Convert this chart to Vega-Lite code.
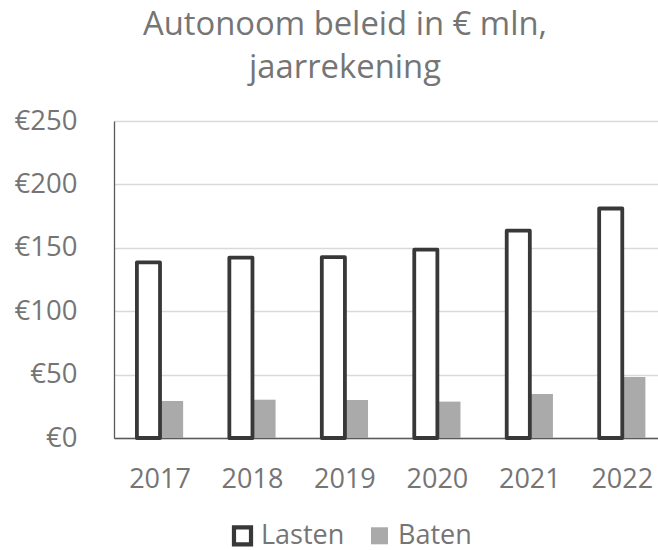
{
  "$schema": "https://vega.github.io/schema/vega-lite/v6.json",
  "width": 544,
  "height": 317,
  "autosize": {"type": "none"},
  "padding": {"left": 114, "top": 121, "right": 0, "bottom": 112},
  "background": "white",
  "title": {
    "text": ["Autonoom beleid in € mln,", "jaarrekening"],
    "font": "Open Sans",
    "fontSize": 32.8,
    "fontWeight": "normal",
    "color": "#757575",
    "anchor": "middle",
    "dx": -41,
    "lineHeight": 43,
    "offset": 22
  },
  "data": {
    "values": [
      {"jaar": "2017", "reeks": "Baten", "waarde": 29.2},
      {"jaar": "2018", "reeks": "Baten", "waarde": 30.2},
      {"jaar": "2019", "reeks": "Baten", "waarde": 30.0},
      {"jaar": "2020", "reeks": "Baten", "waarde": 28.7},
      {"jaar": "2021", "reeks": "Baten", "waarde": 34.7},
      {"jaar": "2022", "reeks": "Baten", "waarde": 48.1},
      {"jaar": "2017", "reeks": "Lasten", "waarde": 138.5},
      {"jaar": "2018", "reeks": "Lasten", "waarde": 142.3},
      {"jaar": "2019", "reeks": "Lasten", "waarde": 142.6},
      {"jaar": "2020", "reeks": "Lasten", "waarde": 148.5},
      {"jaar": "2021", "reeks": "Lasten", "waarde": 163.5},
      {"jaar": "2022", "reeks": "Lasten", "waarde": 181.0}
    ]
  },
  "mark": {"type": "bar", "strokeWidth": 3.8, "strokeJoin": "round"},
  "encoding": {
    "x": {
      "field": "jaar",
      "type": "ordinal",
      "scale": {"paddingInner": 0.5, "paddingOuter": 0.192, "align": 0.645},
      "axis": {
        "title": null,
        "ticks": false,
        "labelAngle": 0,
        "labelFont": "Open Sans",
        "labelFontSize": 27,
        "labelColor": "#757575",
        "labelPadding": 28,
        "domainColor": "#595959",
        "domainWidth": 1.3,
        "grid": false
      }
    },
    "xOffset": {
      "field": "reeks",
      "type": "nominal",
      "sort": ["Lasten", "Baten"],
      "scale": {"paddingInner": 0, "paddingOuter": 0}
    },
    "y": {
      "field": "waarde",
      "type": "quantitative",
      "scale": {"domain": [0, 250], "nice": false},
      "axis": {
        "title": null,
        "values": [0, 50, 100, 150, 200, 250],
        "labelExpr": "'€' + datum.value",
        "ticks": false,
        "labelFont": "Open Sans",
        "labelFontSize": 27.5,
        "labelColor": "#757575",
        "labelPadding": 37,
        "domainColor": "#595959",
        "domainWidth": 1.3,
        "gridColor": "#d9d9d9",
        "gridWidth": 1.3
      }
    },
    "fill": {
      "field": "reeks",
      "type": "nominal",
      "scale": {"domain": ["Lasten", "Baten"], "range": ["#ffffff", "#aaaaaa"]},
      "legend": {
        "title": null,
        "orient": "none",
        "direction": "horizontal",
        "legendX": 115,
        "legendY": 401,
        "symbolType": "square",
        "symbolSize": 290,
        "symbolStrokeWidth": 4.2,
        "labelFont": "Open Sans",
        "labelFontSize": 27,
        "labelColor": "#757575",
        "labelOffset": 5,
        "columnPadding": 17,
        "padding": 0
      }
    },
    "stroke": {
      "field": "reeks",
      "type": "nominal",
      "scale": {"domain": ["Lasten", "Baten"], "range": ["#383838", "transparent"]}
    },
    "order": {"field": "reeks", "sort": "ascending"}
  },
  "config": {
    "view": {"stroke": null},
    "font": "Open Sans"
  }
}
